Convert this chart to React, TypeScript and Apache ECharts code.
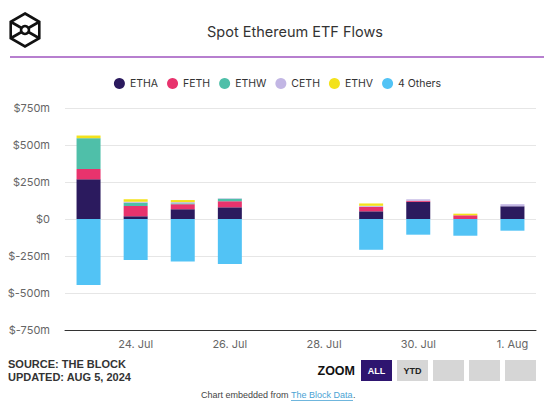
import React, { useEffect, useRef } from "react";
import * as echarts from "echarts";

const categories = ["23. Jul", "24. Jul", "25. Jul", "26. Jul", "27. Jul", "28. Jul", "29. Jul", "30. Jul", "31. Jul", "1. Aug"];
const ethaValues = [268, 18, 66, 79, null, null, 52, 116, 0, 86];
const fethValues = [70, 70, 34, 41, null, null, 30, 7, 25, 0];
const ethwValues = [208, 22, 6, 17, null, null, 0, 0, 0, 0];
const cethValues = [0, 6, 8, 3, null, null, 7, 10, 0, 14];
const ethvValues = [18, 18, 14, 0, null, null, 16, 0, 11, 0];
const othersValues = [-446, -277, -287, -304, null, null, -208, -106, -113, -79];
const seriesNames = ["ETHA", "FETH", "ETHW", "CETH", "ETHV", "4 Others"];
const seriesColors = ["#2b1a5e", "#e8336d", "#4fbfa9", "#c2b6e4", "#f3e21c", "#52c3f5"];

const FONT = "Inter, 'Noto Sans', sans-serif";

export default function App() {
  const ref = useRef<HTMLDivElement>(null);
  useEffect(() => {
    document.body.style.margin = "0";
    if (!ref.current) return;
    const chart = echarts.init(ref.current, null, { renderer: "svg" });
    const allData = [ethaValues, fethValues, ethwValues, cethValues, ethvValues, othersValues];
    const cx = 25, cy = 30, r = 16.5;
    const hx = r * Math.sqrt(3) / 2;
    const hex = [
      [cx, cy - r], [cx + hx, cy - r / 2], [cx + hx, cy + r / 2],
      [cx, cy + r], [cx - hx, cy + r / 2], [cx - hx, cy - r / 2],
    ];
    const logoStroke = { stroke: "#111", lineWidth: 2.6, fill: null };
    const inner = 4;
    const logoLines = [hex[1], hex[2], hex[4], hex[5]].map((p) => {
      const dx = p[0] - cx, dy = p[1] - cy;
      const len = Math.sqrt(dx * dx + dy * dy);
      return {
        type: "line",
        shape: { x1: cx + (dx / len) * inner, y1: cy + (dy / len) * inner, x2: p[0], y2: p[1] },
        style: { stroke: "#111", lineWidth: 2.6 },
      };
    });
    const buttons = [
      { x: 361, label: "ALL", fill: "#2e1570", color: "#fff" },
      { x: 397, label: "YTD", fill: "#d6d6d6", color: "#222" },
      { x: 433, label: "", fill: "#d6d6d6", color: "#222" },
      { x: 469, label: "", fill: "#d6d6d6", color: "#222" },
      { x: 505, label: "", fill: "#d6d6d6", color: "#222" },
    ];
    const option: any = {
      animation: false,
      backgroundColor: "#fff",
      textStyle: { fontFamily: FONT },
      title: {
        text: "Spot Ethereum ETF Flows",
        left: 290,
        textAlign: "center",
        top: 19,
        textStyle: { fontFamily: FONT, fontSize: 14.5, fontWeight: "normal", color: "#333" },
      },
      legend: {
        data: seriesNames,
        top: 73,
        left: "center",
        icon: "circle",
        itemWidth: 11,
        itemHeight: 11,
        itemGap: 9,
        textStyle: { fontFamily: FONT, fontSize: 10.5, color: "#333" },
      },
      grid: { left: 65, right: 19, top: 108, bottom: 90 },
      xAxis: {
        type: "category",
        data: categories,
        axisTick: { show: false },
        axisLine: { onZero: false, lineStyle: { color: "#333", width: 1 } },
        axisLabel: {
          interval: (i: number) => i % 2 === 1,
          color: "#666",
          fontSize: 11,
          fontFamily: FONT,
          margin: 8,
        },
      },
      yAxis: {
        type: "value",
        min: -750,
        max: 750,
        interval: 250,
        axisLine: { show: false },
        axisTick: { show: false },
        splitLine: { lineStyle: { color: "#e6e6e6" } },
        axisLabel: {
          formatter: (v: number) => (v === 0 ? "$0" : `$${v}m`),
          color: "#666",
          fontSize: 11,
          fontFamily: FONT,
          margin: 15,
        },
      },
      series: seriesNames.map((name, i) => ({
        name,
        type: "bar",
        stack: "flows",
        barWidth: 24,
        data: allData[i],
        itemStyle: { color: seriesColors[i] },
      })),
      graphic: [
        { type: "polygon", shape: { points: hex }, style: logoStroke },
        { type: "circle", shape: { cx, cy, r: inner }, style: logoStroke },
        ...logoLines,
        { type: "line", shape: { x1: 10, y1: 57, x2: 544, y2: 57 }, style: { stroke: "#b77fcf", lineWidth: 2 } },
        {
          type: "text", left: 8, top: 358,
          style: { text: "SOURCE: THE BLOCK", font: "bold 11px 'Liberation Sans', Arial, sans-serif", fill: "#333" },
        },
        {
          type: "text", left: 8, top: 371,
          style: { text: "UPDATED: AUG 5, 2024", font: "bold 11px 'Liberation Sans', Arial, sans-serif", fill: "#333" },
        },
        {
          type: "text", x: 355, y: 371,
          style: { text: "ZOOM", font: "bold 12.5px 'Liberation Sans', Arial, sans-serif", fill: "#111", align: "right", verticalAlign: "middle" },
        },
        ...buttons.flatMap((b) => [
          { type: "rect", shape: { x: b.x, y: 360, width: 31, height: 21 }, style: { fill: b.fill } },
          ...(b.label
            ? [{
                type: "text", x: b.x + 15.5, y: 371,
                style: { text: b.label, font: "bold 9px 'Liberation Sans', Arial, sans-serif", fill: b.color, align: "center", verticalAlign: "middle" },
              }]
            : []),
        ]),
        {
          type: "text", x: 291, y: 395,
          style: { text: "Chart embedded from ", font: "9px 'Liberation Sans', Arial, sans-serif", fill: "#444", align: "right", verticalAlign: "middle" },
        },
        {
          type: "text", x: 291, y: 395,
          style: { text: "The Block Data", font: "9px 'Liberation Sans', Arial, sans-serif", fill: "#4aa3d4", align: "left", verticalAlign: "middle" },
        },
        {
          type: "text", x: 353, y: 395,
          style: { text: ".", font: "9px 'Liberation Sans', Arial, sans-serif", fill: "#444", align: "left", verticalAlign: "middle" },
        },
        { type: "line", shape: { x1: 291, y1: 400.5, x2: 353, y2: 400.5 }, style: { stroke: "#4aa3d4", lineWidth: 0.8 } },
      ],
    };
    chart.setOption(option);
    return () => chart.dispose();
  }, []);
  return (
    <div
      ref={ref}
      style={{ position: "absolute", left: 0, top: 0, width: 555, height: 420, background: "#fff" }}
    />
  );
}
